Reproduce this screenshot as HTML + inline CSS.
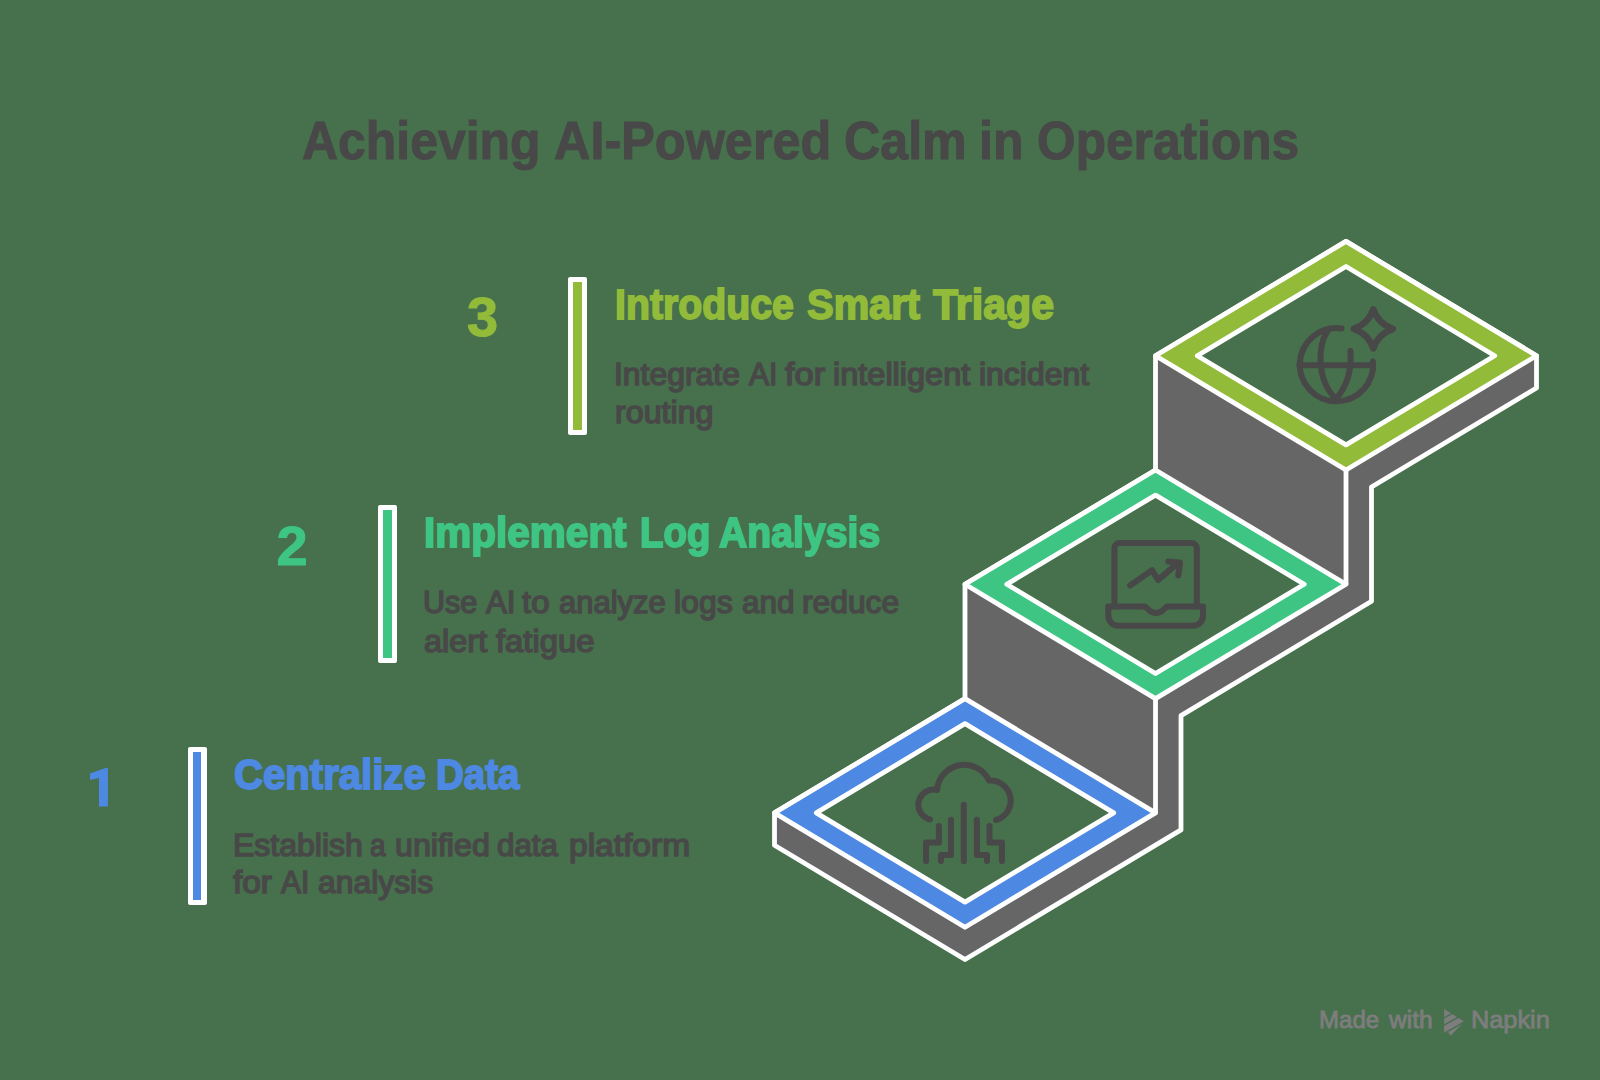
<!DOCTYPE html>
<html><head><meta charset="utf-8"><style>
html,body{margin:0;padding:0;}
body{width:1600px;height:1080px;background:#47704c;position:relative;overflow:hidden;font-family:"Liberation Sans",sans-serif;}
svg{position:absolute;left:0;top:0;}
</style></head><body>
<svg width="1600" height="1080" viewBox="0 0 1600 1080">
<polygon points="1346,241.4 1536.5,355.7 1536.5,388 1371.5,487 1371.5,601.3 1181,715.6 1181,829.9 965,959.5 774.5,845.2 774.5,812.9 965,698.6 965,584.3 1155.5,470 1155.5,355.7" fill="#666666" stroke="#fff" stroke-width="4.8" stroke-linejoin="round"/>
<path d="M1346,470V584.3M1155.5,698.6V812.9" stroke="#fff" stroke-width="4.8" stroke-linejoin="round"/>
<polygon points="1346,241.4 1536.5,355.7 1346,470 1155.5,355.7" fill="#92bb3a" stroke="#fff" stroke-width="4.8" stroke-linejoin="round"/>
<polygon points="1346,266.48 1494.7,355.7 1346,444.92 1197.3,355.7" fill="#47704c" stroke="#fff" stroke-width="4.8" stroke-linejoin="round"/>
<polygon points="1155.5,470 1346,584.3 1155.5,698.6 965,584.3" fill="#3ec583" stroke="#fff" stroke-width="4.8" stroke-linejoin="round"/>
<polygon points="1155.5,495.08 1304.2,584.3 1155.5,673.52 1006.8,584.3" fill="#47704c" stroke="#fff" stroke-width="4.8" stroke-linejoin="round"/>
<polygon points="965,698.6 1155.5,812.9 965,927.2 774.5,812.9" fill="#4d88e2" stroke="#fff" stroke-width="4.8" stroke-linejoin="round"/>
<polygon points="965,723.68 1113.7,812.9 965,902.12 816.3,812.9" fill="#47704c" stroke="#fff" stroke-width="4.8" stroke-linejoin="round"/>
<g fill="none" stroke="#484848" stroke-width="6" stroke-linecap="round" stroke-linejoin="round">
<path d="M1341.5,328.5A36.6,36.6 0 1 0 1372.9,361.5"/>
<path d="M1299.3,365.2H1372.6"/>
<path d="M1327.5,331C1318,345 1316,380 1336,399"/>
<path d="M1350.4,351C1352,370 1348,385 1336,399"/>
<path stroke-width="6.4" d="M1373.3,309.29999999999995Q1378.3,323.9 1392.8999999999999,328.9Q1378.3,333.9 1373.3,348.5Q1368.3,333.9 1353.7,328.9Q1368.3,323.9 1373.3,309.29999999999995Z"/>
</g>
<g fill="none" stroke="#484848" stroke-width="6" stroke-linecap="round" stroke-linejoin="round">
<path d="M1114.4,606.6V548.1A5,5 0 0 1 1119.4,543.1H1191.8A5,5 0 0 1 1196.8,548.1V606.6"/>
<path d="M1108.3,606.6V615.7A10,10 0 0 0 1118.3,625.7H1193A10,10 0 0 0 1203,615.7V606.6H1167L1162,611Q1156,615 1150,611L1145,606.6Z"/>
<path d="M1130.1,585.5L1152,570.2L1158.1,579.9L1178.5,562.6"/>
<path d="M1168.3,561.6L1180,562.8L1178.3,575.5"/>
</g>
<g fill="none" stroke="#484848" stroke-width="6" stroke-linecap="round" stroke-linejoin="round">
<path d="M930,819.4A15.1,15.1 0 0 1 937,790A27.4,27.4 0 0 1 989.1,780.6A20.1,20.1 0 0 1 996,820"/>
<path d="M963.8,804.8V861.2"/>
<path d="M951,819.7V855.1H940.9V861"/>
<path d="M938.9,826V842.5H926.1V861"/>
<path d="M976.9,819.7V855.1H987V861"/>
<path d="M989.5,826V842.5H1001.9V861"/>
</g>
<polygon id="num1" fill="#4d88e2" points="105.6,767.9 107.9,767.9 107.9,806.4 99,806.4 99,778.1 90,780 90,773.5"/>
<g id="logo"><polygon fill="#7d7d7d" points="1444.1,1009.1 1463.5,1021 1463.5,1022.5 1450.6,1035.7 1448.3,1032.3 1444.1,1032.5"/>
<path d="M1443,1018.5L1452.5,1013.2M1443,1025.6L1459,1016.8M1445.5,1032.6L1464,1022.2" stroke="#47704c" stroke-width="1.4"/></g>
</svg>
<div style="position:absolute;left:302.00px;top:113.87px;font-size:54.5px;line-height:54.5px;font-weight:bold;color:#484848;white-space:nowrap;transform:scaleX(0.9157);transform-origin:0 0;-webkit-text-stroke:1.0px #484848;">Achieving</div>
<div style="position:absolute;left:553.58px;top:113.87px;font-size:54.5px;line-height:54.5px;font-weight:bold;color:#484848;white-space:nowrap;transform:scaleX(0.9252);transform-origin:0 0;-webkit-text-stroke:1.0px #484848;">AI-Powered</div>
<div style="position:absolute;left:843.79px;top:113.87px;font-size:54.5px;line-height:54.5px;font-weight:bold;color:#484848;white-space:nowrap;transform:scaleX(0.9206);transform-origin:0 0;-webkit-text-stroke:1.0px #484848;">Calm</div>
<div style="position:absolute;left:979.41px;top:113.87px;font-size:54.5px;line-height:54.5px;font-weight:bold;color:#484848;white-space:nowrap;transform:scaleX(0.9174);transform-origin:0 0;-webkit-text-stroke:1.0px #484848;">in</div>
<div style="position:absolute;left:1036.62px;top:113.87px;font-size:54.5px;line-height:54.5px;font-weight:bold;color:#484848;white-space:nowrap;transform:scaleX(0.9114);transform-origin:0 0;-webkit-text-stroke:1.0px #484848;">Operations</div>
<div style="position:absolute;left:467.00px;top:288.60px;font-size:56px;line-height:56px;font-weight:bold;color:#92bb3a;white-space:nowrap;transform:scaleX(1.0000);transform-origin:0 0;-webkit-text-stroke:1.0px #92bb3a;">3</div>
<div style="position:absolute;left:276.50px;top:517.60px;font-size:56px;line-height:56px;font-weight:bold;color:#3ec583;white-space:nowrap;transform:scaleX(1.0000);transform-origin:0 0;-webkit-text-stroke:1.0px #3ec583;">2</div>
<div style="position:absolute;left:615.22px;top:283.44px;font-size:42.6px;line-height:42.6px;font-weight:bold;color:#92bb3a;white-space:nowrap;transform:scaleX(0.9220);transform-origin:0 0;-webkit-text-stroke:1.8px #92bb3a;">Introduce</div>
<div style="position:absolute;left:806.60px;top:283.44px;font-size:42.6px;line-height:42.6px;font-weight:bold;color:#92bb3a;white-space:nowrap;transform:scaleX(0.9372);transform-origin:0 0;-webkit-text-stroke:1.8px #92bb3a;">Smart</div>
<div style="position:absolute;left:933.02px;top:283.44px;font-size:42.6px;line-height:42.6px;font-weight:bold;color:#92bb3a;white-space:nowrap;transform:scaleX(0.9651);transform-origin:0 0;-webkit-text-stroke:1.8px #92bb3a;">Triage</div>
<div style="position:absolute;left:423.98px;top:511.44px;font-size:42.6px;line-height:42.6px;font-weight:bold;color:#3ec583;white-space:nowrap;transform:scaleX(0.9512);transform-origin:0 0;-webkit-text-stroke:1.8px #3ec583;">Implement</div>
<div style="position:absolute;left:640.03px;top:511.44px;font-size:42.6px;line-height:42.6px;font-weight:bold;color:#3ec583;white-space:nowrap;transform:scaleX(0.9022);transform-origin:0 0;-webkit-text-stroke:1.8px #3ec583;">Log</div>
<div style="position:absolute;left:719.00px;top:511.44px;font-size:42.6px;line-height:42.6px;font-weight:bold;color:#3ec583;white-space:nowrap;transform:scaleX(0.9204);transform-origin:0 0;-webkit-text-stroke:1.8px #3ec583;">Analysis</div>
<div style="position:absolute;left:233.61px;top:752.94px;font-size:42.6px;line-height:42.6px;font-weight:bold;color:#4d88e2;white-space:nowrap;transform:scaleX(0.9419);transform-origin:0 0;-webkit-text-stroke:1.8px #4d88e2;">Centralize</div>
<div style="position:absolute;left:436.05px;top:752.94px;font-size:42.6px;line-height:42.6px;font-weight:bold;color:#4d88e2;white-space:nowrap;transform:scaleX(0.9050);transform-origin:0 0;-webkit-text-stroke:1.8px #4d88e2;">Data</div>
<div style="position:absolute;left:613.71px;top:358.84px;font-size:31.5px;line-height:31.5px;font-weight:normal;color:#484848;white-space:nowrap;transform:scaleX(1.0125);transform-origin:0 0;-webkit-text-stroke:1.5px #484848;">Integrate</div>
<div style="position:absolute;left:749.46px;top:358.84px;font-size:31.5px;line-height:31.5px;font-weight:normal;color:#484848;white-space:nowrap;transform:scaleX(0.9555);transform-origin:0 0;-webkit-text-stroke:1.5px #484848;">AI</div>
<div style="position:absolute;left:785.12px;top:358.84px;font-size:31.5px;line-height:31.5px;font-weight:normal;color:#484848;white-space:nowrap;transform:scaleX(1.0921);transform-origin:0 0;-webkit-text-stroke:1.5px #484848;">for</div>
<div style="position:absolute;left:832.70px;top:358.84px;font-size:31.5px;line-height:31.5px;font-weight:normal;color:#484848;white-space:nowrap;transform:scaleX(1.0314);transform-origin:0 0;-webkit-text-stroke:1.5px #484848;">intelligent</div>
<div style="position:absolute;left:979.11px;top:358.84px;font-size:31.5px;line-height:31.5px;font-weight:normal;color:#484848;white-space:nowrap;transform:scaleX(1.0132);transform-origin:0 0;-webkit-text-stroke:1.5px #484848;">incident</div>
<div style="position:absolute;left:614.96px;top:397.34px;font-size:31.5px;line-height:31.5px;font-weight:normal;color:#484848;white-space:nowrap;transform:scaleX(1.0226);transform-origin:0 0;-webkit-text-stroke:1.5px #484848;">routing</div>
<div style="position:absolute;left:423.17px;top:587.34px;font-size:31.5px;line-height:31.5px;font-weight:normal;color:#484848;white-space:nowrap;transform:scaleX(0.9693);transform-origin:0 0;-webkit-text-stroke:1.5px #484848;">Use</div>
<div style="position:absolute;left:485.88px;top:587.34px;font-size:31.5px;line-height:31.5px;font-weight:normal;color:#484848;white-space:nowrap;transform:scaleX(0.9872);transform-origin:0 0;-webkit-text-stroke:1.5px #484848;">AI</div>
<div style="position:absolute;left:522.48px;top:587.34px;font-size:31.5px;line-height:31.5px;font-weight:normal;color:#484848;white-space:nowrap;transform:scaleX(1.0448);transform-origin:0 0;-webkit-text-stroke:1.5px #484848;">to</div>
<div style="position:absolute;left:558.51px;top:587.34px;font-size:31.5px;line-height:31.5px;font-weight:normal;color:#484848;white-space:nowrap;transform:scaleX(0.9842);transform-origin:0 0;-webkit-text-stroke:1.5px #484848;">analyze</div>
<div style="position:absolute;left:673.88px;top:587.34px;font-size:31.5px;line-height:31.5px;font-weight:normal;color:#484848;white-space:nowrap;transform:scaleX(1.0151);transform-origin:0 0;-webkit-text-stroke:1.5px #484848;">logs</div>
<div style="position:absolute;left:741.50px;top:587.34px;font-size:31.5px;line-height:31.5px;font-weight:normal;color:#484848;white-space:nowrap;transform:scaleX(0.9973);transform-origin:0 0;-webkit-text-stroke:1.5px #484848;">and</div>
<div style="position:absolute;left:802.09px;top:587.34px;font-size:31.5px;line-height:31.5px;font-weight:normal;color:#484848;white-space:nowrap;transform:scaleX(1.0090);transform-origin:0 0;-webkit-text-stroke:1.5px #484848;">reduce</div>
<div style="position:absolute;left:423.72px;top:626.34px;font-size:31.5px;line-height:31.5px;font-weight:normal;color:#484848;white-space:nowrap;transform:scaleX(1.0306);transform-origin:0 0;-webkit-text-stroke:1.5px #484848;">alert</div>
<div style="position:absolute;left:495.50px;top:626.34px;font-size:31.5px;line-height:31.5px;font-weight:normal;color:#484848;white-space:nowrap;transform:scaleX(1.0408);transform-origin:0 0;-webkit-text-stroke:1.5px #484848;">fatigue</div>
<div style="position:absolute;left:232.71px;top:829.84px;font-size:31.5px;line-height:31.5px;font-weight:normal;color:#484848;white-space:nowrap;transform:scaleX(1.0159);transform-origin:0 0;-webkit-text-stroke:1.5px #484848;">Establish</div>
<div style="position:absolute;left:370.49px;top:829.84px;font-size:31.5px;line-height:31.5px;font-weight:normal;color:#484848;white-space:nowrap;transform:scaleX(0.8881);transform-origin:0 0;-webkit-text-stroke:1.5px #484848;">a</div>
<div style="position:absolute;left:395.30px;top:829.84px;font-size:31.5px;line-height:31.5px;font-weight:normal;color:#484848;white-space:nowrap;transform:scaleX(1.0211);transform-origin:0 0;-webkit-text-stroke:1.5px #484848;">unified</div>
<div style="position:absolute;left:497.33px;top:829.84px;font-size:31.5px;line-height:31.5px;font-weight:normal;color:#484848;white-space:nowrap;transform:scaleX(0.9920);transform-origin:0 0;-webkit-text-stroke:1.5px #484848;">data</div>
<div style="position:absolute;left:569.06px;top:829.84px;font-size:31.5px;line-height:31.5px;font-weight:normal;color:#484848;white-space:nowrap;transform:scaleX(1.0638);transform-origin:0 0;-webkit-text-stroke:1.5px #484848;">platform</div>
<div style="position:absolute;left:233.31px;top:867.09px;font-size:31.5px;line-height:31.5px;font-weight:normal;color:#484848;white-space:nowrap;transform:scaleX(1.0605);transform-origin:0 0;-webkit-text-stroke:1.5px #484848;">for</div>
<div style="position:absolute;left:281.43px;top:867.09px;font-size:31.5px;line-height:31.5px;font-weight:normal;color:#484848;white-space:nowrap;transform:scaleX(0.9480);transform-origin:0 0;-webkit-text-stroke:1.5px #484848;">AI</div>
<div style="position:absolute;left:317.50px;top:867.09px;font-size:31.5px;line-height:31.5px;font-weight:normal;color:#484848;white-space:nowrap;transform:scaleX(1.0114);transform-origin:0 0;-webkit-text-stroke:1.5px #484848;">analysis</div>
<div style="position:absolute;left:1319.34px;top:1009.03px;font-size:23px;line-height:23px;font-weight:normal;color:#7d7d7d;white-space:nowrap;transform:scaleX(1.0467);transform-origin:0 0;-webkit-text-stroke:0.8px #7d7d7d;">Made</div>
<div style="position:absolute;left:1388.89px;top:1009.03px;font-size:23px;line-height:23px;font-weight:normal;color:#7d7d7d;white-space:nowrap;transform:scaleX(1.0697);transform-origin:0 0;-webkit-text-stroke:0.8px #7d7d7d;">with</div>
<div style="position:absolute;left:1470.67px;top:1009.03px;font-size:23px;line-height:23px;font-weight:normal;color:#7d7d7d;white-space:nowrap;transform:scaleX(1.1003);transform-origin:0 0;-webkit-text-stroke:0.8px #7d7d7d;">Napkin</div>
<div style="position:absolute;left:568px;top:277px;width:19px;height:158px;background:#fff;border-radius:2px"></div>
<div style="position:absolute;left:573.40px;top:281.80px;width:8.4px;height:148.4px;background:#92bb3a"></div>
<div style="position:absolute;left:378px;top:505px;width:19px;height:158px;background:#fff;border-radius:2px"></div>
<div style="position:absolute;left:383.40px;top:509.80px;width:8.4px;height:148.4px;background:#3ec583"></div>
<div style="position:absolute;left:187.5px;top:747px;width:19px;height:158px;background:#fff;border-radius:2px"></div>
<div style="position:absolute;left:192.90px;top:751.80px;width:8.4px;height:148.4px;background:#4d88e2"></div>
</body></html>
